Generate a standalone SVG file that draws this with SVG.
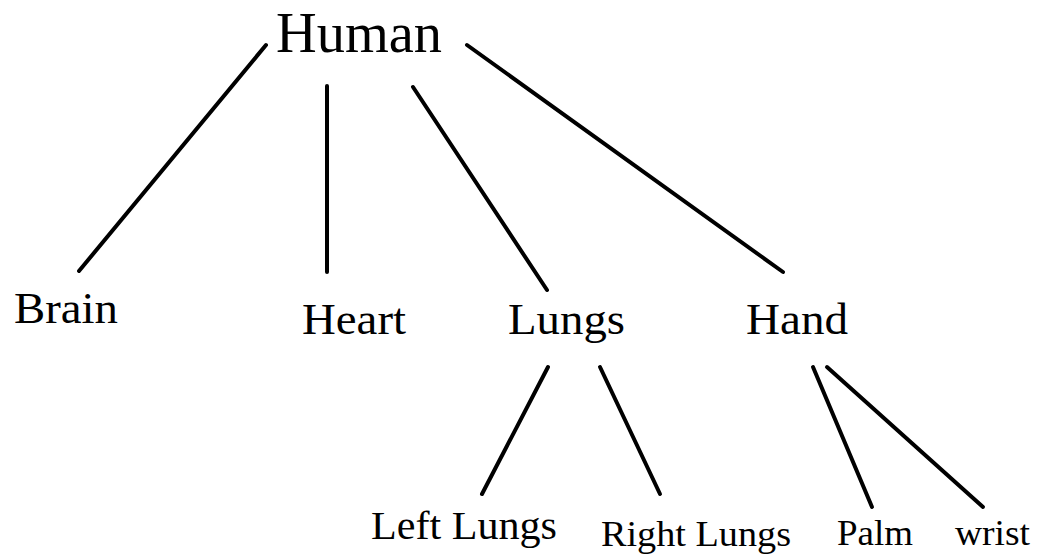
<svg xmlns="http://www.w3.org/2000/svg" width="1037" height="554" viewBox="0 0 1037 554">
<style>
text{font-family:"Liberation Serif","Times New Roman",serif;fill:#000}
.c line{stroke:#000;stroke-width:4;stroke-linecap:round}
</style>
<rect width="1037" height="554" fill="#fff"/>
<g class="c" id="connectors">
<line x1="266" y1="45" x2="79" y2="271"/>
<line x1="327" y1="86" x2="327" y2="272"/>
<line x1="413" y1="87" x2="547" y2="290"/>
<line x1="467" y1="45" x2="783" y2="272"/>
<line x1="548" y1="367" x2="482" y2="494"/>
<line x1="600" y1="367" x2="660" y2="494"/>
<line x1="813" y1="367" x2="872" y2="507"/>
<line x1="827" y1="367" x2="983" y2="507"/>
</g>
<g id="human"><text x="276" y="52" font-size="56" textLength="166" lengthAdjust="spacingAndGlyphs">Human</text></g>
<g id="brain"><text x="14" y="323" font-size="44" textLength="104" lengthAdjust="spacingAndGlyphs">Brain</text></g>
<g id="heart"><text x="302" y="334" font-size="44" textLength="104" lengthAdjust="spacingAndGlyphs">Heart</text></g>
<g id="lungs"><text x="508" y="334" font-size="44" textLength="117" lengthAdjust="spacingAndGlyphs">Lungs</text></g>
<g id="hand"><text x="746" y="334" font-size="44" textLength="102" lengthAdjust="spacingAndGlyphs">Hand</text></g>
<g id="left-lungs"><text x="371" y="539" font-size="41" textLength="186" lengthAdjust="spacingAndGlyphs">Left Lungs</text></g>
<g id="right-lungs"><text x="601" y="546" font-size="36" textLength="190" lengthAdjust="spacingAndGlyphs">Right Lungs</text></g>
<g id="palm"><text x="837" y="545" font-size="36" textLength="76" lengthAdjust="spacingAndGlyphs">Palm</text></g>
<g id="wrist"><text x="955" y="545" font-size="36" textLength="75" lengthAdjust="spacingAndGlyphs">wrist</text></g>
</svg>
